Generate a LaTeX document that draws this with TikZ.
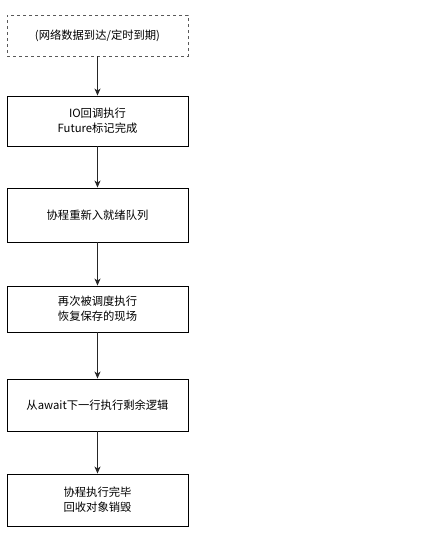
\documentclass[tikz,border=0pt]{standalone}
\usepackage{fontspec}
\setmainfont{Noto Sans CJK SC}
\usepackage{tikz}
\usetikzlibrary{positioning,arrows.meta}

\begin{document}
\begin{tikzpicture}[
    x=1pt, y=-1pt,
    % Define styles for the flow steps
    stepbox/.style={rectangle, draw=black, line width=0.9pt, fill=white, minimum width=181pt, align=center, inner sep=2pt, font=\fontsize{11.3}{15}\selectfont},
    trigger/.style={stepbox, draw=black!65, dashed},
    arrow/.style={-{Stealth[length=7pt, width=6pt, inset=2pt]}, line width=0.9pt, black!85}
]
    \useasboundingbox (0,0) rectangle (424,538);

    % Trigger
    \node[trigger, minimum height=41pt] (event) at (97.5,35.5) {(网络数据到达/定时到期)};

    % Steps
    \node[stepbox, minimum height=50pt] (ioCb) at (97.5,121) {IO回调执行\\Future标记完成};
    \node[stepbox, minimum height=54pt] (ready) at (97.5,215) {协程重新入就绪队列};
    \node[stepbox, minimum height=46pt] (resume) at (97.5,309) {再次被调度执行\\恢复保存的现场};
    \node[stepbox, minimum height=52pt] (rest) at (97.5,405) {从await下一行执行剩余逻辑};
    \node[stepbox, minimum height=52pt] (done) at (97.5,500) {协程执行完毕\\回收对象销毁};

    % Connections
    \draw[arrow] (event) -- (ioCb);
    \draw[arrow] (ioCb) -- (ready);
    \draw[arrow] (ready) -- (resume);
    \draw[arrow] (resume) -- (rest);
    \draw[arrow] (rest) -- (done);

\end{tikzpicture}
\end{document}
